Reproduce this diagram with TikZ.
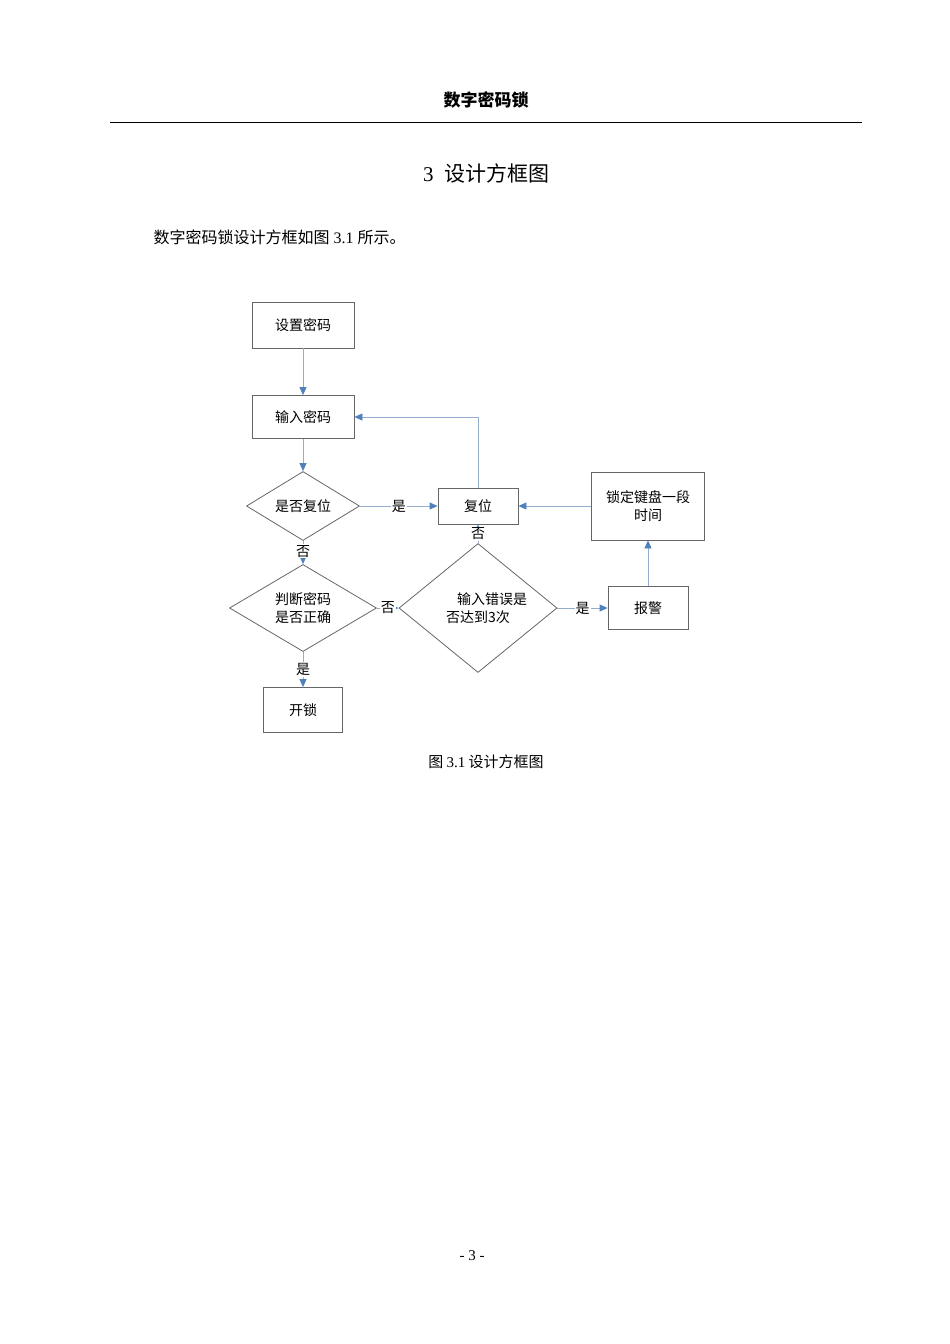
\documentclass[tikz,border=0pt]{standalone}
\usepackage{fontspec}
\setmainfont{Liberation Serif}
\newfontfamily\cjk{Noto Sans CJK SC}
\usetikzlibrary{shapes.geometric,arrows.meta}
\definecolor{ln}{RGB}{150,172,205}
\definecolor{tip}{RGB}{79,129,189}
\tikzset{
 x=1pt,y=-1pt,
 bx/.style={draw=gray!80!black,line width=0.8pt,minimum width=#1,inner sep=1pt,align=center,font=\cjk\fontsize{14}{18}\selectfont},
 dm/.style={draw=gray!80!black,line width=0.8pt,diamond,inner sep=0pt,align=center,font=\cjk\fontsize{14}{18}\selectfont},
 ar/.style={draw=ln,line width=0.8pt,-{Triangle[length=8pt,width=7pt,fill=tip,color=tip]}},
 lb/.style={fill=white,inner sep=1pt,font=\cjk\fontsize{14}{16}\selectfont}
}
\begin{document}
\begin{tikzpicture}
\useasboundingbox (0,0) rectangle (950,1344);
\node[font=\cjk\bfseries\itshape\fontsize{17}{20}\selectfont] (hd) at (486,100) {数字密码锁};
\draw[line width=1pt] (110,122) -- (862,122);
\node[font=\fontsize{21}{26}\selectfont] (tt) at (486,173) {3\ \ {\cjk 设计方框图}};
\node[anchor=west,font=\fontsize{16}{20}\selectfont] (p) at (150,237) {{\cjk 数字密码锁设计方框如图} 3.1 {\cjk 所示。}};

\node[bx=102pt,minimum height=46pt] (a) at (303,325) {设置密码};
\node[bx=102pt,minimum height=43pt] (b) at (303,417) {输入密码};
\node[dm,minimum width=113pt,minimum height=67pt] (c) at (303,506) {是否复位};
\node[bx=80pt,minimum height=36pt] (d) at (478,506) {复位};
\node[bx=113pt,minimum height=68pt] (e) at (648,506) {锁定键盘一段\\时间};
\node[dm,minimum width=147pt,minimum height=78pt] (f) at (303,608) {判断密码\\是否正确};
\node[dm,minimum width=158pt,minimum height=82pt] (g) at (478,608) {\hspace*{28pt}输入错误是\\否达到3次};
\node[bx=80pt,minimum height=43pt] (h) at (648,608) {报警};
\node[bx=79pt,minimum height=45pt] (k) at (303,710) {开锁};

\draw[ar] (a) -- (b);
\draw[ar] (b) -- (c);
\draw[ar] (c) -- node[lb,pos=0.5]{是} (d);
\draw[ar] (e) -- (d);
\draw[ar] (d.north) |- (b.east);
\draw[ar] (c) -- node[lb,pos=0.45]{否} (f);
\draw[ar] (f) -- node[lb,pos=0.5]{否} (g);
\draw[ar] (g) -- node[lb,pos=0.5]{否} (d);
\draw[ar] (g) -- node[lb,pos=0.5]{是} (h);
\draw[ar] (h) -- (e);
\draw[ar] (f) -- node[lb,pos=0.5]{是} (k);

\node[font=\cjk\fontsize{15}{18}\selectfont] (cap) at (486,762) {图 {\fontspec{Liberation Serif}3.1} 设计方框图};
\node[font=\fontsize{15}{18}\selectfont] (pg) at (472,1256) {-\ 3\ -};
\end{tikzpicture}
\end{document}
